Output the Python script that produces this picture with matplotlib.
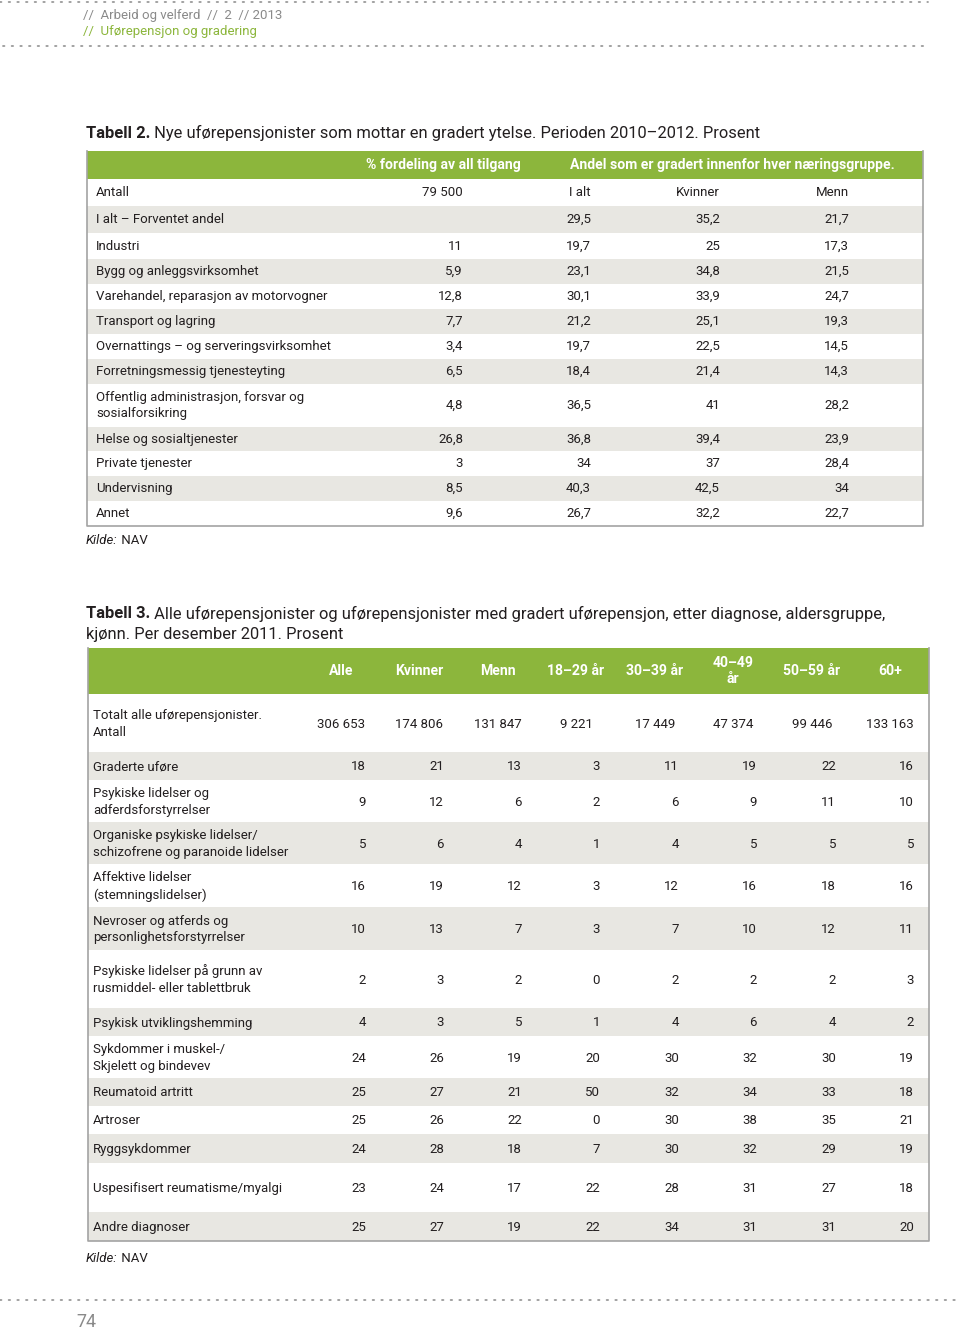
import matplotlib.pyplot as plt
from matplotlib.patches import Rectangle

plt.rcParams['font.family'] = ['Roboto', 'DejaVu Sans']

GREEN = '#8cb63c'
BAND = '#e8e7e2'
EDGE = '#a3a3a3'
INK = '#231f20'

# ---- Tabell 2 data ----
t2_labels = ['Antall', 'I alt – Forventet andel', 'Industri', 'Bygg og anleggsvirksomhet',
             'Varehandel, reparasjon av motorvogner', 'Transport og lagring',
             'Overnattings – og serveringsvirksomhet', 'Forretningsmessig tjenesteyting',
             'Offentlig administrasjon, forsvar og\nsosialforsikring', 'Helse og sosialtjenester',
             'Private tjenester', 'Undervisning', 'Annet']
t2_fordeling = ['79 500', '', '11', '5,9', '12,8', '7,7', '3,4', '6,5', '4,8', '26,8', '3', '8,5', '9,6']
t2_ialt = ['I alt', '29,5', '19,7', '23,1', '30,1', '21,2', '19,7', '18,4', '36,5', '36,8', '34', '40,3', '26,7']
t2_kvinner = ['Kvinner', '35,2', '25', '34,8', '33,9', '25,1', '22,5', '21,4', '41', '39,4', '37', '42,5', '32,2']
t2_menn = ['Menn', '21,7', '17,3', '21,5', '24,7', '19,3', '14,5', '14,3', '28,2', '23,9', '28,4', '34', '22,7']

# ---- Tabell 3 data ----
t3_cols = ['Alle', 'Kvinner', 'Menn', '18–29 år', '30–39 år', '40–49\når', '50–59 år', '60+']
t3_labels = ['Totalt alle uførepensjonister.\nAntall', 'Graderte uføre',
             'Psykiske lidelser og\nadferdsforstyrrelser',
             'Organiske psykiske lidelser/\nschizofrene og paranoide lidelser',
             'Affektive lidelser\n(stemningslidelser)',
             'Nevroser og atferds og\npersonlighetsforstyrrelser',
             'Psykiske lidelser på grunn av\nrusmiddel- eller tablettbruk',
             'Psykisk utviklingshemming', 'Sykdommer i muskel-/\nSkjelett og bindevev',
             'Reumatoid artritt', 'Artroser', 'Ryggsykdommer',
             'Uspesifisert reumatisme/myalgi', 'Andre diagnoser']
t3_alle = ['306 653', '18', '9', '5', '16', '10', '2', '4', '24', '25', '25', '24', '23', '25']
t3_kvinner = ['174 806', '21', '12', '6', '19', '13', '3', '3', '26', '27', '26', '28', '24', '27']
t3_menn = ['131 847', '13', '6', '4', '12', '7', '2', '5', '19', '21', '22', '18', '17', '19']
t3_18_29 = ['9 221', '3', '2', '1', '3', '3', '0', '1', '20', '50', '0', '7', '22', '22']
t3_30_39 = ['17 449', '11', '6', '4', '12', '7', '2', '4', '30', '32', '30', '30', '28', '34']
t3_40_49 = ['47 374', '19', '9', '5', '16', '10', '2', '6', '32', '34', '38', '32', '31', '31']
t3_50_59 = ['99 446', '22', '11', '5', '18', '12', '2', '4', '30', '33', '35', '29', '27', '31']
t3_60 = ['133 163', '16', '10', '5', '16', '11', '3', '2', '19', '18', '21', '19', '18', '20']

fig = plt.figure(figsize=(9.6, 13.3), dpi=100)
ax = fig.add_axes([0, 0, 1, 1])
ax.set_xlim(0, 960)
ax.set_ylim(1330, 0)
ax.axis('off')
renderer = fig.canvas.get_renderer()


def runs(x, y, pieces, size, color=INK):
    # draw consecutive text pieces with different weights/styles on one line
    for txt, kw in pieces:
        t = ax.text(x, y, txt, fontsize=size, color=color, va='center', ha='left', **kw)
        bb = t.get_window_extent(renderer)
        x += bb.width


def dotted(y, x0, x1):
    ax.plot([x0, x1], [y, y], color='#9a9a9a', lw=1.3, linestyle=(0, (0.8, 4)),
            solid_capstyle='round', dash_capstyle='round')


# header / footer
dotted(2, 0, 928)
dotted(46, 3, 928)
ax.text(83, 15, '//  Arbeid og velferd  //  2  // 2013', fontsize=9.5, color='#8a8a8a', va='center')
ax.text(83, 31, '//  Uførepensjon og gradering', fontsize=9.5, color=GREEN, va='center')
dotted(1300, 0, 960)
ax.text(76, 1322, '74', fontsize=13, color='#8a8a8a', va='center')

BODY = 9.5
TITLE = 11.9
HEAD = 10.1

# ---------------- Tabell 2 ----------------
runs(86, 133, [('Tabell 2.', {'fontweight': 'bold'}),
               (' Nye uførepensjonister som mottar en gradert ytelse. Perioden 2010–2012. Prosent', {})],
     TITLE)
x0, x1 = 87, 923
ax.add_patch(Rectangle((x0, 151), x1 - x0, 28, color=GREEN, lw=0))
ax.text(443, 165, '% fordeling av all tilgang', fontsize=HEAD, fontweight='bold', color='white',
        ha='center', va='center')
ax.text(570, 165, 'Andel som er gradert innenfor hver næringsgruppe.', fontsize=HEAD,
        fontweight='bold', color='white', ha='left', va='center')

t2_edges = [179, 206, 233, 259, 284, 309, 334, 359, 384, 427, 451, 476, 501, 526]
t2_right = [463, 591, 720, 849]
for i, lab in enumerate(t2_labels):
    top, bot = t2_edges[i], t2_edges[i + 1]
    yc = (top + bot) / 2
    if i % 2 == 1:
        ax.add_patch(Rectangle((x0, top), x1 - x0, bot - top, color=BAND, lw=0))
    ax.text(96, yc, lab, fontsize=BODY, color=INK, va='center', ha='left', linespacing=1.35)
    for xr, col in zip(t2_right, [t2_fordeling, t2_ialt, t2_kvinner, t2_menn]):
        ax.text(xr, yc, col[i], fontsize=BODY, color=INK, va='center', ha='right')
ax.plot([x0, x0, x1, x1], [151, t2_edges[-1], t2_edges[-1], 151], color=EDGE, lw=1.2)
runs(86, 541, [('Kilde:', {'fontstyle': 'italic'}), (' NAV', {})], BODY)

# ---------------- Tabell 3 ----------------
runs(86, 614, [('Tabell 3.', {'fontweight': 'bold'}),
               (' Alle uførepensjonister og uførepensjonister med gradert uførepensjon, etter diagnose, aldersgruppe,', {})],
     TITLE)
runs(86, 635, [('kjønn. Per desember 2011. Prosent', {})], TITLE)
x0, x1 = 88, 929
ax.add_patch(Rectangle((x0, 648), x1 - x0, 46, color=GREEN, lw=0))
t3_center = [341, 419, 498, 576, 655, 733, 812, 890]
t3_right = [366, 444, 522, 600, 679, 757, 836, 914]
for xc, name in zip(t3_center, t3_cols):
    ax.text(xc, 671, name, fontsize=HEAD, fontweight='bold', color='white', ha='center',
            va='center', linespacing=1.25)

t3_edges = [694, 752, 780, 822, 864, 907, 950, 1008, 1036, 1078, 1106, 1134, 1163, 1212, 1241]
t3_values = [t3_alle, t3_kvinner, t3_menn, t3_18_29, t3_30_39, t3_40_49, t3_50_59, t3_60]
for i, lab in enumerate(t3_labels):
    top, bot = t3_edges[i], t3_edges[i + 1]
    yc = (top + bot) / 2
    if i % 2 == 1:
        ax.add_patch(Rectangle((x0, top), x1 - x0, bot - top, color=BAND, lw=0))
    ax.text(93, yc + 1, lab, fontsize=BODY, color=INK, va='center', ha='left', linespacing=1.4)
    for j, col in enumerate(t3_values):
        if i == 0:
            ax.text(t3_center[j], yc + 1, col[i], fontsize=BODY, color=INK, va='center', ha='center')
        else:
            ax.text(t3_right[j], yc + 1, col[i], fontsize=BODY, color=INK, va='center', ha='right')
ax.plot([x0, x0, x1, x1], [648, t3_edges[-1], t3_edges[-1], 648], color=EDGE, lw=1.2)
runs(86, 1258, [('Kilde:', {'fontstyle': 'italic'}), (' NAV', {})], BODY)

fig.savefig('out.png', dpi=100)
